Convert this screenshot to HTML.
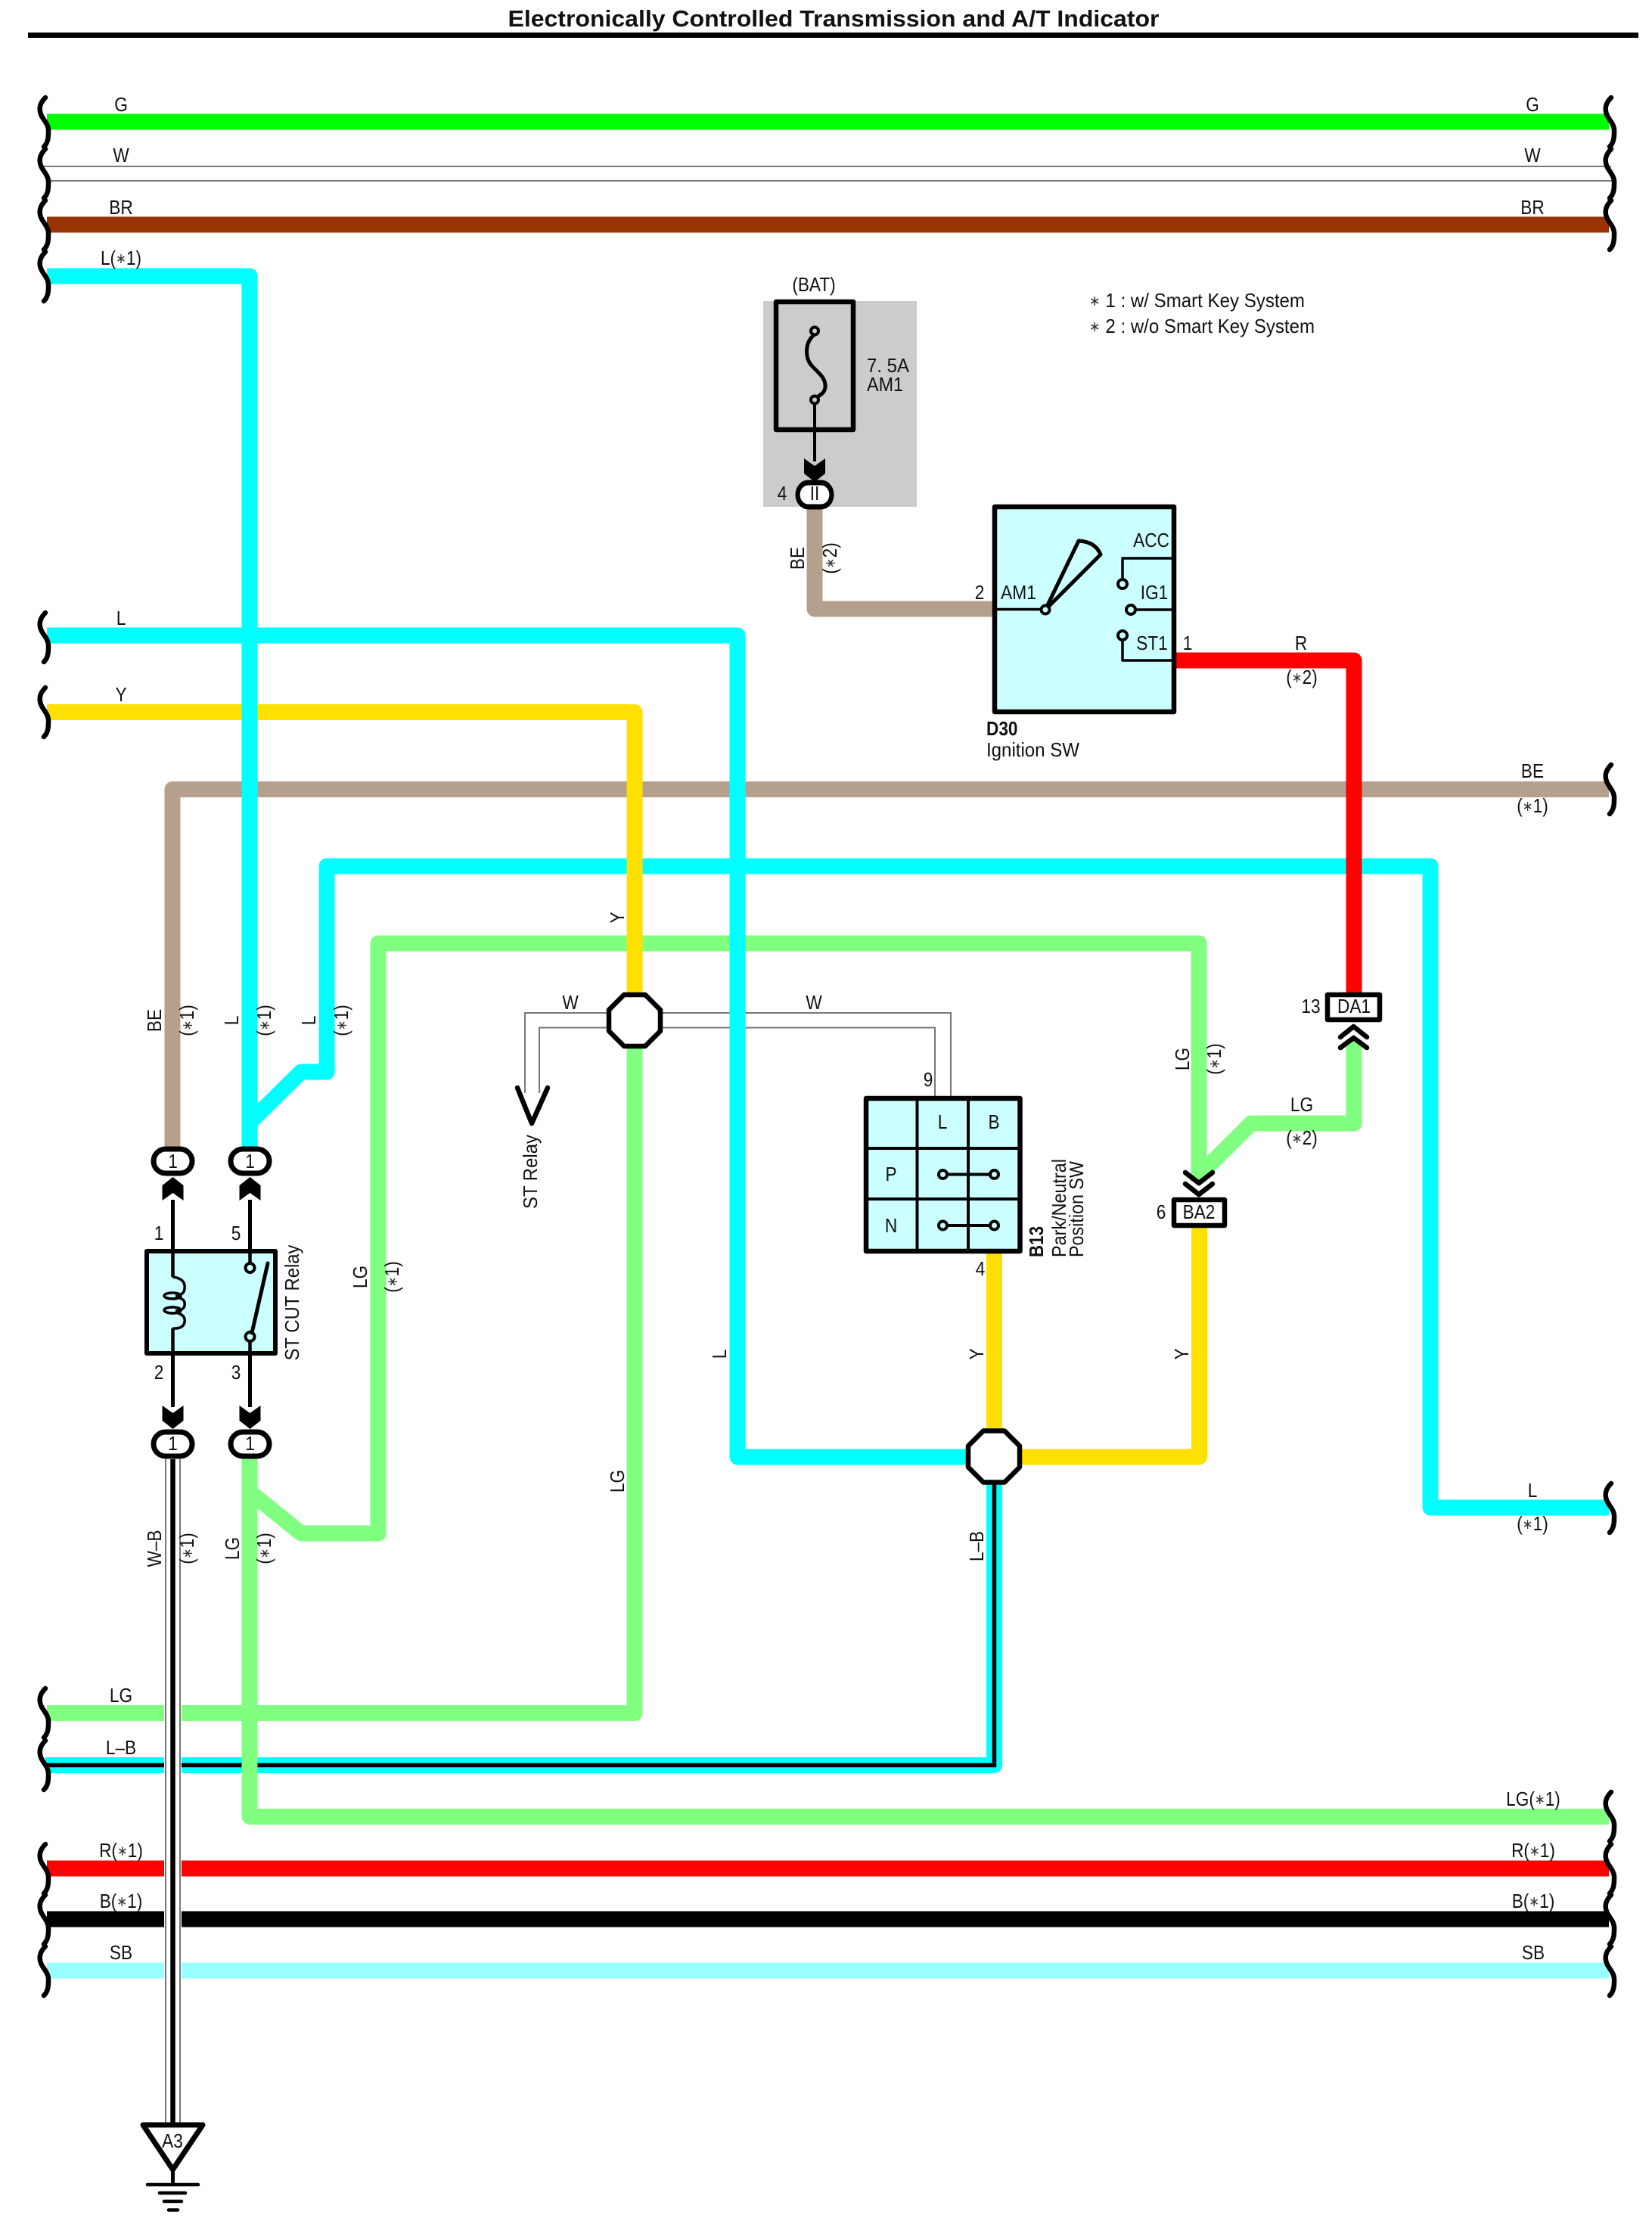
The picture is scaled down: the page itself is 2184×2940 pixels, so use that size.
<!DOCTYPE html>
<html><head><meta charset="utf-8"><title>Electronically Controlled Transmission and A/T Indicator</title>
<style>
html,body{margin:0;padding:0;background:#fff}
svg{display:block}
text{font-family:"Liberation Sans","DejaVu Sans",sans-serif;font-size:26px;text-anchor:middle;fill:#111}
.l{text-anchor:start}
.b{font-weight:bold}
.s{font-size:19px;baseline-shift:2px;fill:#333}
.w{fill:none;stroke-width:21;stroke-linejoin:round}
.k{fill:none;stroke:#000;stroke-linejoin:round}
.g{fill:none;stroke:#777;stroke-width:2}
</style></head><body>
<svg xmlns="http://www.w3.org/2000/svg" width="2184" height="2940" viewBox="0 0 2184 2940">
<defs>
<path id="br" d="M60,-32C53,-25 51,-18 54,-10C57,-2 65,3 64,14C64,22 63,28 58,33" fill="none" stroke="#000" stroke-width="6.5" stroke-linecap="round"/>
<path id="up" d="M0,0L14,11V31L0,21L-14,31V11Z" fill="#000"/>
<path id="dn" d="M0,0L14,-11V-31L0,-21L-14,-31V-11Z" fill="#000"/>
<rect id="ov" x="-25.500" y="-16" width="51" height="32" rx="16" fill="#fff" stroke="#000" stroke-width="7"/>
<path id="oc" d="M-14,-34H14L34,-14V14L14,34H-14L-34,14V-14Z" fill="#fff" stroke="#000" stroke-width="6.500" stroke-linejoin="round"/>
</defs>
<rect width="2184" height="2940" fill="#fff"/>

<text class="b" transform="translate(1102 35)" style="font-size:31px" textLength="861" lengthAdjust="spacingAndGlyphs">Electronically Controlled Transmission and A/T Indicator</text>
<rect x="37" y="43" width="2129" height="7" fill="#000"/>

<!-- straight buses -->
<path class="w" stroke="#00FF00" d="M62,161H2127"/>
<path class="g" d="M58,220H2130M62,239H2134"/>
<path class="w" stroke="#993300" d="M62,297H2127"/>
<path class="w" stroke="#FF0000" d="M62,2470H2127"/>
<path class="w" stroke="#000" d="M62,2537H2127"/>
<path class="w" stroke="#99FFFF" d="M62,2605H2127"/>

<!-- under-layer wires -->
<path class="w" stroke="#B4A08C" d="M2127,1043.500H228V1516"/>
<path class="w" stroke="#00FFFF" d="M330,1484L398,1417H432V1145H1891V1993H2127"/>
<path class="w" stroke="#80FF80" d="M330,1972L398,2027H500V1247H1585V1562"/>
<path class="w" stroke="#80FF80" d="M1585,1554L1654,1485H1790V1375"/>
<path class="w" stroke="#00FFFF" d="M60,2333.500H1314.500V1960"/>
<path fill="none" stroke="#000" stroke-width="5.500" stroke-linejoin="miter" d="M60,2333.500H1314.500V1960"/>
<path class="w" stroke="#80FF80" d="M62,2264.500H839V1380"/>
<path class="w" stroke="#80FF80" d="M2127,2401.500H330V1925"/>
<path class="g" d="M805,1339H694V1445M805,1358.500H713V1445"/>
<path class="g" d="M870,1339H1257V1449M870,1358.500H1236V1449"/>

<!-- yellow wires -->
<path class="w" stroke="#FFE000" d="M62,941.500H839V1320"/>
<path class="w" stroke="#FFE000" d="M1314.500,1656V1890"/>
<path class="w" stroke="#FFE000" d="M1350,1926H1585.500V1620"/>

<!-- over-layer wires -->
<path class="w" stroke="#00FFFF" d="M62,840H975V1926H1280"/>
<path class="w" stroke="#00FFFF" d="M62,365H330V1516"/>
<path class="w" stroke="#B4A08C" d="M1077,670V805H1315"/>
<path class="w" stroke="#FF0000" d="M1552,873H1790V1314"/>

<!-- W-B to ground -->
<rect x="217" y="1925" width="23" height="882" fill="#fff"/>
<path class="g" d="M219,1929V2807M238,1929V2807"/>
<path d="M228.500,1929V2807" stroke="#000" stroke-width="6.500"/>

<!-- braces -->
<use href="#br" transform="translate(0 161)"/>
<use href="#br" transform="translate(0 229)"/>
<use href="#br" transform="translate(0 297)"/>
<use href="#br" transform="translate(0 365)"/>
<use href="#br" transform="translate(0 842)"/>
<use href="#br" transform="translate(0 941)"/>
<use href="#br" transform="translate(0 2264)"/>
<use href="#br" transform="translate(0 2333)"/>
<use href="#br" transform="translate(0 2470)"/>
<use href="#br" transform="translate(0 2537)"/>
<use href="#br" transform="translate(0 2605)"/>
<use href="#br" transform="translate(2070 161)"/>
<use href="#br" transform="translate(2070 229)"/>
<use href="#br" transform="translate(2070 297)"/>
<use href="#br" transform="translate(2070 1043)"/>
<use href="#br" transform="translate(2070 1993)"/>
<use href="#br" transform="translate(2070 2401)"/>
<use href="#br" transform="translate(2070 2470)"/>
<use href="#br" transform="translate(2070 2537)"/>
<use href="#br" transform="translate(2070 2605)"/>

<!-- fuse block -->
<rect x="1009" y="398" width="203" height="272" fill="#CCCCCC"/>
<rect x="1026" y="399" width="102" height="169" fill="none" stroke="#000" stroke-width="6.500" stroke-linejoin="round"/>
<path class="k" stroke-width="5" d="M1077,442C1064,452 1064,472 1072,482C1080,492 1092,498 1091,512C1090,520 1084,522 1079,526"/>
<circle cx="1077" cy="437.500" r="5" fill="#CCCCCC" stroke="#000" stroke-width="4"/>
<circle cx="1077" cy="528.500" r="5" fill="#CCCCCC" stroke="#000" stroke-width="4"/>
<path d="M1077,534V610" stroke="#000" stroke-width="4"/>
<use href="#dn" transform="translate(1077 637)"/>
<use href="#ov" transform="translate(1077 654) scale(.88 1)"/>
<text transform="translate(1077 661) scale(.87 1)" fill="#333">II</text>
<text transform="translate(1034 661) scale(.87 1)">4</text>
<text class="l" transform="translate(1146 492)" textLength="56" lengthAdjust="spacingAndGlyphs">7. 5A</text>
<text class="l" transform="translate(1146 517)" textLength="48" lengthAdjust="spacingAndGlyphs">AM1</text>
<text transform="translate(1076 385) scale(.87 1)">(BAT)</text>
<text class="l" transform="translate(1440 406)" textLength="285" lengthAdjust="spacingAndGlyphs"><tspan class="s">∗</tspan> 1 : w/ Smart Key System</text>
<text class="l" transform="translate(1440 440)" textLength="298" lengthAdjust="spacingAndGlyphs"><tspan class="s">∗</tspan> 2 : w/o Smart Key System</text>

<!-- ignition switch -->
<rect x="1315" y="670" width="237" height="271" fill="#CCFFFF" stroke="#000" stroke-width="6.500" stroke-linejoin="round"/>
<path class="k" stroke-width="3.500" d="M1315,805.500H1376"/>
<path class="k" stroke-width="5" d="M1382,806L1426,715Q1448,716 1455,733Z"/>
<circle cx="1382" cy="806" r="5.500" fill="#CCFFFF" stroke="#000" stroke-width="4"/>
<path class="k" stroke-width="3.500" d="M1549,738H1484V766M1502,806H1549M1484,846V873H1549"/>
<circle cx="1484" cy="772" r="6" fill="#CCFFFF" stroke="#000" stroke-width="4"/>
<circle cx="1495" cy="806" r="6" fill="#CCFFFF" stroke="#000" stroke-width="4"/>
<circle cx="1484" cy="840" r="6" fill="#CCFFFF" stroke="#000" stroke-width="4"/>
<text class="l" transform="translate(1323 792)" textLength="47" lengthAdjust="spacingAndGlyphs">AM1</text>
<text transform="translate(1295 792) scale(.87 1)">2</text>
<text transform="translate(1522 723) scale(.87 1)">ACC</text>
<text transform="translate(1526 792) scale(.87 1)">IG1</text>
<text transform="translate(1523 859) scale(.87 1)">ST1</text>
<text transform="translate(1570 859) scale(.87 1)">1</text>
<text transform="translate(1720 859) scale(.87 1)">R</text>
<text transform="translate(1721 904) scale(.87 1)">(<tspan class="s">∗</tspan>2)</text>
<text class="l b" transform="translate(1304 972) scale(.87 1)">D30</text>
<text class="l" transform="translate(1304 1000)" textLength="123" lengthAdjust="spacingAndGlyphs">Ignition SW</text>
<text transform="translate(1063 738) rotate(-90) scale(.87 1)">BE</text>
<text transform="translate(1106 738) rotate(-90) scale(.87 1)">(<tspan class="s">∗</tspan>2)</text>

<!-- ST CUT relay -->
<path d="M228.500,1586V1657M330.500,1586V1676M228.500,1790V1860M330.500,1767V1860" stroke="#000" stroke-width="5"/>
<rect x="194" y="1654" width="170" height="135" fill="#CCFFFF" stroke="#000" stroke-width="6" stroke-linejoin="round"/>
<path class="k" stroke-width="4.500" d="M228.500,1654V1688M228.500,1756V1790M330.500,1654V1670M330.500,1773V1790"/>
<path class="k" stroke-width="3.500" d="M228,1688Q246,1690 244,1704Q243,1712 232,1713M232,1715Q246,1716 244,1726Q243,1732 232,1733M232,1735Q246,1738 244,1748Q242,1757 228,1756"/>
<ellipse cx="228" cy="1713" rx="11" ry="4" fill="none" stroke="#000" stroke-width="3.500"/>
<ellipse cx="228" cy="1732" rx="11" ry="4" fill="none" stroke="#000" stroke-width="3.500"/>
<circle cx="330.500" cy="1676" r="6" fill="#CCFFFF" stroke="#000" stroke-width="4"/>
<circle cx="330.500" cy="1767" r="6" fill="#CCFFFF" stroke="#000" stroke-width="4"/>
<path d="M333,1762L354,1670" stroke="#000" stroke-width="5" stroke-linecap="round"/>
<use href="#up" transform="translate(228.500 1556)"/>
<use href="#up" transform="translate(330.500 1556)"/>
<use href="#dn" transform="translate(228.500 1889)"/>
<use href="#dn" transform="translate(330.500 1889)"/>
<use href="#ov" transform="translate(228.500 1535)"/>
<use href="#ov" transform="translate(330.500 1535)"/>
<use href="#ov" transform="translate(228.500 1909)"/>
<use href="#ov" transform="translate(330.500 1909)"/>
<text transform="translate(228.500 1544) scale(.87 1)">1</text>
<text transform="translate(330.500 1544) scale(.87 1)">1</text>
<text transform="translate(228.500 1917) scale(.87 1)">1</text>
<text transform="translate(330.500 1917) scale(.87 1)">1</text>
<text transform="translate(210 1639) scale(.87 1)">1</text>
<text transform="translate(312 1639) scale(.87 1)">5</text>
<text transform="translate(210 1823) scale(.87 1)">2</text>
<text transform="translate(312 1823) scale(.87 1)">3</text>
<text transform="translate(395 1722) rotate(-90)" textLength="153" lengthAdjust="spacingAndGlyphs">ST CUT Relay</text>

<!-- splices -->
<use href="#oc" transform="translate(839 1349)"/>
<use href="#oc" transform="translate(1314 1925.500)"/>

<!-- ST relay arrow -->
<path class="k" stroke-width="6.500" stroke-linecap="round" d="M684,1438L703,1485L724,1438"/>
<text transform="translate(710 1549) rotate(-90)" textLength="98" lengthAdjust="spacingAndGlyphs">ST Relay</text>
<text transform="translate(754 1334) scale(.87 1)">W</text>
<text transform="translate(1076 1334) scale(.87 1)">W</text>

<!-- park/neutral switch -->
<rect x="1145" y="1452" width="203.500" height="202" fill="#CCFFFF" stroke="#000" stroke-width="6.500" stroke-linejoin="round"/>
<path class="k" stroke-width="4" d="M1212.500,1452V1654M1280,1452V1654M1145,1518H1349M1145,1585H1349"/>
<path class="k" stroke-width="4" d="M1250,1552.500H1310M1250,1620H1310"/>
<circle cx="1246.500" cy="1552.500" r="5.500" fill="#CCFFFF" stroke="#000" stroke-width="4"/>
<circle cx="1314.500" cy="1552.500" r="5.500" fill="#CCFFFF" stroke="#000" stroke-width="4"/>
<circle cx="1246.500" cy="1620" r="5.500" fill="#CCFFFF" stroke="#000" stroke-width="4"/>
<circle cx="1314.500" cy="1620" r="5.500" fill="#CCFFFF" stroke="#000" stroke-width="4"/>
<text transform="translate(1246 1492) scale(.87 1)">L</text>
<text transform="translate(1314 1492) scale(.87 1)">B</text>
<text transform="translate(1178 1561) scale(.87 1)">P</text>
<text transform="translate(1178 1629) scale(.87 1)">N</text>
<text transform="translate(1227 1436) scale(.87 1)">9</text>
<text transform="translate(1296 1686) scale(.87 1)">4</text>
<text class="l b" transform="translate(1379 1662) rotate(-90)" textLength="41" lengthAdjust="spacingAndGlyphs">B13</text>
<text class="l" transform="translate(1409 1662) rotate(-90)" textLength="130" lengthAdjust="spacingAndGlyphs">Park/Neutral</text>
<text class="l" transform="translate(1432 1662) rotate(-90)" textLength="127" lengthAdjust="spacingAndGlyphs">Position SW</text>

<!-- DA1 / BA2 connectors -->
<rect x="1755" y="1315" width="69" height="33" fill="#fff" stroke="#000" stroke-width="6.500" stroke-linejoin="round"/>
<text transform="translate(1790 1339) scale(.87 1)">DA1</text>
<text transform="translate(1733 1339) scale(.87 1)">13</text>
<path class="k" stroke-width="6.500" stroke-linecap="round" stroke-linejoin="miter" d="M1772,1371L1789.500,1357L1807,1371M1772,1385L1789.500,1372L1807,1385"/>
<rect x="1552" y="1586" width="67" height="34" fill="#fff" stroke="#000" stroke-width="6.500" stroke-linejoin="round"/>
<text transform="translate(1585 1611) scale(.87 1)">BA2</text>
<text transform="translate(1535 1611) scale(.87 1)">6</text>
<path class="k" stroke-width="6.500" stroke-linecap="round" stroke-linejoin="miter" d="M1567,1550L1585,1564L1603,1550M1567,1565L1585,1579L1603,1565"/>

<!-- ground -->
<path d="M189,2809H268L228.500,2868Z" fill="#fff" stroke="#000" stroke-width="7" stroke-linejoin="round"/>
<text transform="translate(228 2839) scale(.87 1)">A3</text>
<path d="M228.500,2868V2888" stroke="#000" stroke-width="5"/>
<path d="M195,2888H262M211,2899H245M217,2910H240M223,2921.500H235" stroke="#000" stroke-width="4.500" stroke-linecap="round"/>

<!-- left bus labels -->
<text transform="translate(160 147) scale(.87 1)">G</text>
<text transform="translate(160 214) scale(.87 1)">W</text>
<text transform="translate(160 283) scale(.87 1)">BR</text>
<text transform="translate(160 350) scale(.87 1)">L(<tspan class="s">∗</tspan>1)</text>
<text transform="translate(160 826) scale(.87 1)">L</text>
<text transform="translate(160 927) scale(.87 1)">Y</text>
<text transform="translate(160 2250) scale(.87 1)">LG</text>
<text transform="translate(160 2319) scale(.87 1)">L–B</text>
<text transform="translate(160 2455) scale(.87 1)">R(<tspan class="s">∗</tspan>1)</text>
<text transform="translate(160 2522) scale(.87 1)">B(<tspan class="s">∗</tspan>1)</text>
<text transform="translate(160 2590) scale(.87 1)">SB</text>

<!-- right bus labels -->
<text transform="translate(2026 147) scale(.87 1)">G</text>
<text transform="translate(2026 214) scale(.87 1)">W</text>
<text transform="translate(2026 283) scale(.87 1)">BR</text>
<text transform="translate(2026 1028) scale(.87 1)">BE</text>
<text transform="translate(2026 1074) scale(.87 1)">(<tspan class="s">∗</tspan>1)</text>
<text transform="translate(2026 1979) scale(.87 1)">L</text>
<text transform="translate(2026 2023) scale(.87 1)">(<tspan class="s">∗</tspan>1)</text>
<text transform="translate(2027 2387) scale(.87 1)">LG(<tspan class="s">∗</tspan>1)</text>
<text transform="translate(2027 2455) scale(.87 1)">R(<tspan class="s">∗</tspan>1)</text>
<text transform="translate(2027 2522) scale(.87 1)">B(<tspan class="s">∗</tspan>1)</text>
<text transform="translate(2027 2590) scale(.87 1)">SB</text>

<!-- rotated wire labels -->
<text transform="translate(213 1349) rotate(-90) scale(.87 1)">BE</text>
<text transform="translate(256 1349) rotate(-90) scale(.87 1)">(<tspan class="s">∗</tspan>1)</text>
<text transform="translate(315 1349) rotate(-90) scale(.87 1)">L</text>
<text transform="translate(358 1349) rotate(-90) scale(.87 1)">(<tspan class="s">∗</tspan>1)</text>
<text transform="translate(417 1349) rotate(-90) scale(.87 1)">L</text>
<text transform="translate(460 1349) rotate(-90) scale(.87 1)">(<tspan class="s">∗</tspan>1)</text>
<text transform="translate(485 1688) rotate(-90) scale(.87 1)">LG</text>
<text transform="translate(527 1688) rotate(-90) scale(.87 1)">(<tspan class="s">∗</tspan>1)</text>
<text transform="translate(213 2047) rotate(-90) scale(.87 1)">W–B</text>
<text transform="translate(256 2047) rotate(-90) scale(.87 1)">(<tspan class="s">∗</tspan>1)</text>
<text transform="translate(316 2047) rotate(-90) scale(.87 1)">LG</text>
<text transform="translate(358 2047) rotate(-90) scale(.87 1)">(<tspan class="s">∗</tspan>1)</text>
<text transform="translate(825 1213) rotate(-90) scale(.87 1)">Y</text>
<text transform="translate(825 1958) rotate(-90) scale(.87 1)">LG</text>
<text transform="translate(960 1790) rotate(-90) scale(.87 1)">L</text>
<text transform="translate(1300 1790) rotate(-90) scale(.87 1)">Y</text>
<text transform="translate(1571 1790) rotate(-90) scale(.87 1)">Y</text>
<text transform="translate(1300 2044) rotate(-90) scale(.87 1)">L–B</text>
<text transform="translate(1572 1400) rotate(-90) scale(.87 1)">LG</text>
<text transform="translate(1614 1400) rotate(-90) scale(.87 1)">(<tspan class="s">∗</tspan>1)</text>
<text transform="translate(1721 1469) scale(.87 1)">LG</text>
<text transform="translate(1721 1513) scale(.87 1)">(<tspan class="s">∗</tspan>2)</text>
</svg>
</body></html>
